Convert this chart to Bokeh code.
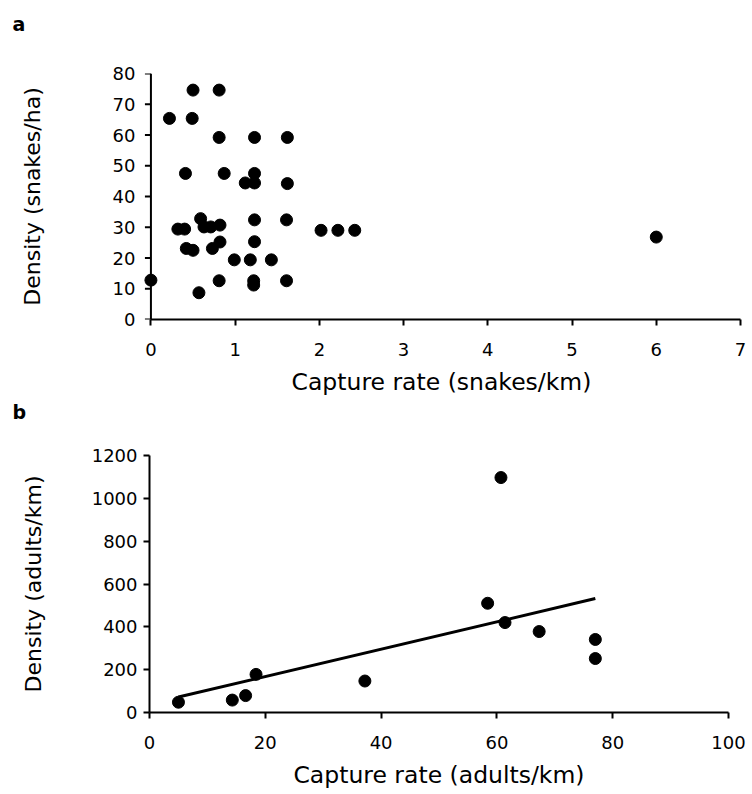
from bokeh.plotting import figure
from bokeh.models import Range1d, FixedTicker, Span
from bokeh.embed import file_html
from bokeh.resources import INLINE

FONT = "DejaVu Sans"

# ---- panel a: capture rate vs density (snakes) ----
a_rate = [0.0, 0.22, 0.50, 0.49, 0.81, 0.81, 1.23, 1.62, 0.41, 0.87,
          1.12, 1.23, 1.23, 1.62, 0.59, 0.32, 0.40, 0.63, 0.71, 0.82,
          1.23, 1.61, 2.02, 2.22, 2.42, 0.42, 0.50, 0.73, 0.82, 1.23,
          0.99, 1.18, 1.43, 0.81, 1.22, 1.22, 1.61, 0.57, 6.0]
a_density = [12.8, 65.4, 74.6, 65.4, 74.6, 59.2, 59.2, 59.2, 47.5, 47.5,
             44.4, 47.5, 44.4, 44.2, 32.8, 29.4, 29.4, 30.1, 30.1, 30.7,
             32.4, 32.4, 29.0, 29.0, 29.0, 23.1, 22.5, 23.1, 25.2, 25.3,
             19.4, 19.4, 19.4, 12.6, 12.6, 11.2, 12.6, 8.7, 26.8]
a_xticks = [0, 1, 2, 3, 4, 5, 6, 7]
a_yticks = [0, 10, 20, 30, 40, 50, 60, 70, 80]

# ---- panel b: capture rate vs density (adults) ----
b_rate = [5, 14.3, 16.6, 18.4, 37.2, 58.4, 60.7, 61.4, 67.3, 77.0, 77.0]
b_density = [48, 58, 79, 178, 147, 510, 1097, 420, 378, 341, 252]
b_fit_rate = [5, 77]
b_fit_density = [72, 532]
b_xticks = [0, 20, 40, 60, 80, 100]
b_yticks = [0, 200, 400, 600, 800, 1000, 1200]

TICK_PX = 6


def letter_fig(letter, height, standoff, valign):
    f = figure(width=752, height=height, output_backend="svg", toolbar_location=None,
               x_axis_type=None, y_axis_type=None,
               min_border_left=12, min_border_right=0,
               min_border_top=0, min_border_bottom=0)
    f.outline_line_color = None
    f.background_fill_color = "white"
    f.border_fill_color = "white"
    f.title.text = letter
    f.title.align = "left"
    f.title.offset = 0
    f.title.standoff = standoff
    f.title.vertical_align = valign
    f.title.text_font = FONT
    f.title.text_font_style = "bold"
    f.title.text_font_size = "19px"
    f.title.text_color = "black"
    return f


def style(p, xticks, yticks, xlab, ylab, ystand):
    p.outline_line_color = None
    p.xgrid.grid_line_color = None
    p.ygrid.grid_line_color = None
    p.background_fill_color = "white"
    p.border_fill_color = "white"
    for ax in (p.xaxis[0], p.yaxis[0]):
        ax.axis_line_color = "black"
        ax.axis_line_width = 2
        ax.major_tick_line_color = "black"
        ax.major_tick_line_width = 2
        ax.major_tick_in = 0
        ax.major_tick_out = TICK_PX
        ax.minor_tick_line_color = None
        ax.major_label_text_font = FONT
        ax.major_label_text_font_size = "18px"
        ax.major_label_text_color = "black"
        ax.axis_label_text_font = FONT
        ax.axis_label_text_font_style = "normal"
        ax.axis_label_text_color = "black"
    p.xaxis[0].axis_label_text_font_size = "23.5px"
    p.yaxis[0].axis_label_text_font_size = "22px"
    p.xaxis[0].ticker = FixedTicker(ticks=xticks)
    p.yaxis[0].ticker = FixedTicker(ticks=yticks)
    p.xaxis[0].axis_label = xlab
    p.yaxis[0].axis_label = ylab
    p.xaxis[0].major_label_standoff = 17
    p.yaxis[0].major_label_standoff = 7
    p.xaxis[0].axis_label_standoff = 9
    p.yaxis[0].axis_label_standoff = ystand
    p.xaxis[0].bounds = (xticks[0], xticks[-1])
    p.yaxis[0].bounds = (yticks[0], yticks[-1])


# letter "a"
la = letter_fig("a", 48, 20, "bottom")

# Panel a  (x range padded on the left so the dot on x = 0 is not cut)
A_FRAME_W = 598
a_x0, a_x1 = -0.1, 7.0
pa = figure(width=752, height=352, output_backend="svg", toolbar_location=None,
            x_range=Range1d(a_x0, a_x1), y_range=Range1d(0, 80),
            min_border_left=142, min_border_right=12,
            min_border_top=25, min_border_bottom=81)
style(pa, a_xticks, a_yticks, "Capture rate (snakes/km)", "Density (snakes/ha)", 65)
# y axis drawn at x = 0 (inside the padded frame)
pa.yaxis[0].axis_line_color = None
pa.yaxis[0].major_tick_out = 0
pa.add_layout(Span(location=0, dimension="height", line_color="black", line_width=2))
tick_len = TICK_PX * (a_x1 - a_x0) / A_FRAME_W
pa.segment(x0=[0] * len(a_yticks), y0=a_yticks,
           x1=[-tick_len] * len(a_yticks), y1=a_yticks,
           line_color="black", line_width=2)
pa.scatter(a_rate, a_density, size=12, marker="circle",
           fill_color="black", line_color="black")

# letter "b"
lb = letter_fig("b", 30, 0, "top")

# Panel b
pb = figure(width=752, height=364, output_backend="svg", toolbar_location=None,
            x_range=Range1d(0, 100), y_range=Range1d(0, 1200),
            min_border_left=149, min_border_right=24,
            min_border_top=25, min_border_bottom=82)
style(pb, b_xticks, b_yticks, "Capture rate (adults/km)", "Density (adults/km)", 43)
pb.yaxis[0].major_label_standoff = 6
pb.line(b_fit_rate, b_fit_density, line_color="black", line_width=3)
pb.scatter(b_rate, b_density, size=12, marker="circle",
           fill_color="black", line_color="black")

open("out.html", "w").write(file_html([la, pa, lb, pb], INLINE))
